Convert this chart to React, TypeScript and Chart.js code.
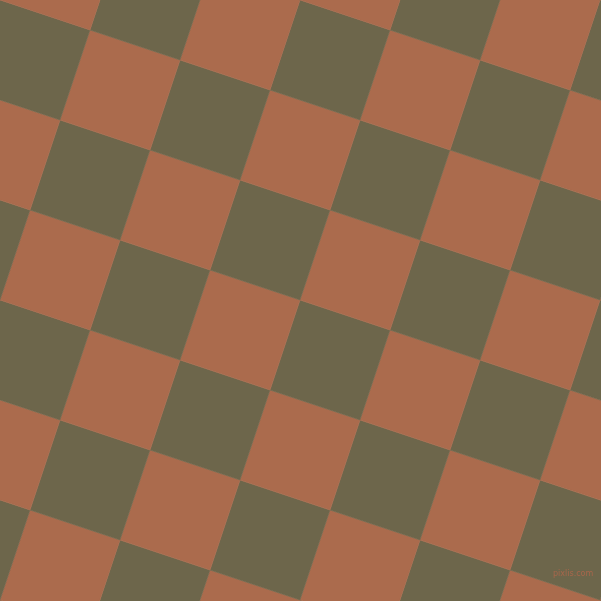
import React, { useEffect, useRef } from 'react';
import { Chart, registerables } from 'chart.js';

Chart.register(...registerables);

// lattice indices of the tiles (rotated grid), tile step along each axis in px
const tileCols = [-2, -1, 0, 1, 2, 3, 4, 5, 6, 7, 8, 9];
const tileRows = [-4, -3, -2, -1, 0, 1, 2, 3, 4, 5, 6, 7];
const stepU = [90, 30]; // one tile along the first edge
const stepV = [-30, 90]; // one tile along the second edge
const tileColors = ['#6D664B', '#AB6B4D']; // even / odd tile

const SIZE = 601;

const corner = (i: number, j: number) => ({
  x: i * stepU[0] + j * stepV[0],
  y: i * stepU[1] + j * stepV[1],
});

export default function App() {
  const canvasRef = useRef<HTMLCanvasElement>(null);

  useEffect(() => {
    if (!canvasRef.current) return;
    document.body.style.margin = '0';

    const datasets: any[] = [];
    tileCols.forEach((i) => {
      tileRows.forEach((j) => {
        const color = tileColors[Math.abs(i + j) % 2];
        datasets.push({
          type: 'line',
          data: [corner(i, j), corner(i + 1, j), corner(i + 1, j + 1), corner(i, j + 1), corner(i, j)],
          showLine: true,
          fill: 'shape',
          backgroundColor: color,
          borderColor: color,
          borderWidth: 0.6,
          pointRadius: 0,
          tension: 0,
        });
      });
    });

    const chart = new Chart(canvasRef.current, {
      type: 'scatter',
      data: { datasets },
      options: {
        animation: false,
        responsive: false,
        maintainAspectRatio: false,
        layout: { padding: 0 },
        events: [],
        scales: {
          x: { type: 'linear', min: 0, max: SIZE, display: false },
          y: { type: 'linear', min: 0, max: SIZE, reverse: true, display: false },
        },
        plugins: {
          legend: { display: false },
          tooltip: { enabled: false },
        },
      },
    });

    return () => chart.destroy();
  }, []);

  return (
    <div style={{ position: 'relative', width: SIZE, height: SIZE, overflow: 'hidden' }}>
      <canvas ref={canvasRef} width={SIZE} height={SIZE} style={{ display: 'block' }} />
      <span
        style={{
          position: 'absolute',
          left: 553,
          top: 569,
          fontFamily: '"DejaVu Sans", sans-serif',
          fontSize: 8,
          color: '#A8664B',
          whiteSpace: 'nowrap',
        }}
      >
        pixlis.com
      </span>
    </div>
  );
}
